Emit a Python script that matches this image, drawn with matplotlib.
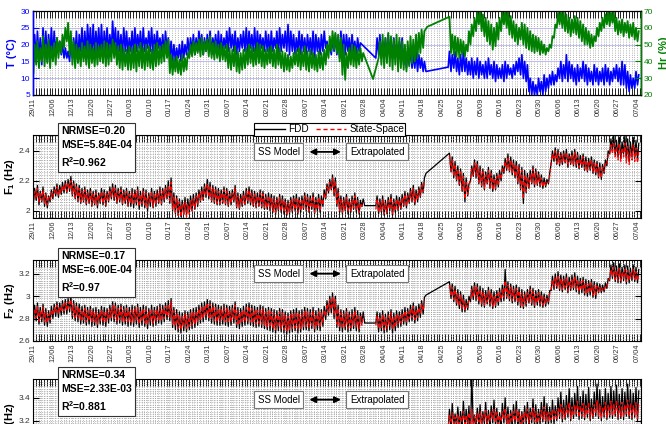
import numpy as np
import matplotlib
matplotlib.use('Agg')
import matplotlib.pyplot as plt
from matplotlib.ticker import MultipleLocator, FixedLocator
from matplotlib.lines import Line2D

plt.rcParams['font.family'] = ['Liberation Sans', 'DejaVu Sans']
plt.rcParams['mathtext.fontset'] = 'custom'
plt.rcParams['mathtext.rm'] = 'Liberation Sans'
plt.rcParams['mathtext.bf'] = 'Liberation Sans:bold'

N = None

# weekly tick labels (day 0 = 29/11)
xtick_labels = ['29/11', '12/06', '12/13', '12/20', '12/27', '01/03', '01/10', '01/17',
                '01/24', '01/31', '02/07', '02/14', '02/21', '02/28', '03/07', '03/14',
                '03/21', '03/28', '04/04', '04/11', '04/18', '04/25', '05/02', '05/09',
                '05/16', '05/23', '05/30', '06/06', '06/13', '06/20', '06/27', '07/04']
tick_days = [7 * i for i in range(len(xtick_labels))]

# daily max / min, one row per week
t_hi = [23, 24, 22, 25, 24, 23, 25,  24, 22, 21, 20, 19, 18, 21,  22, 24, 23, 25, 24, 26, 25,
        26, 24, 25, 26, 24, 25, 23,  27, 25, 24, 23, 25, 24, 22,  24, 25, 23, 24, 25, 22, 24,
        25, 23, 24, 22, 23, 24, 22,  21, 20, 19, 20, 21, 20, 22,  22, 23, 22, 24, 23, 22, 23,
        24, 22, 23, 24, 23, 22, 24,  25, 23, 24, 22, 23, 24, 25,  24, 23, 25, 24, 23, 22, 24,
        23, 24, 22, 24, 25, 23, 24,  26, 24, 23, 22, 24, 23, 22,  23, 22, 24, 23, 22, 23, 24,
        21, 20, 22, 23, 22, 24, 23,  23, 22, 23, 21, 22, 20.5, N,  N, N, N, N, 22, 23, 21,
        22, 23, 21, 22, 20, 21, 22,  19, 18, 19, 17, 18, 17, 16,  15, N, N, N, N, N, N,
        N, N, 18, 17, 18, 16, 17,  18, 16, 15, 16, 15, 16, 15,  14, 15, 16, 14, 15, 14, 13,
        14, 15, 14, 13, 14, 15, 16,  17, 15, 14, 10, 9, 8, 10,  9, 11, 10, 11, 12, 11, 13,
        15, 14, 17, 15, 14, 13, 14,  13, 15, 14, 13, 12, 14, 13,  12, 13, 14, 13, 12, 13, 14,
        13, 15, 14, 12, 11, 10, 12,  11]
t_lo = [17, 15, 16, 14, 16, 15, 17,  16, 17, 18, 17, 16, 16, 15,  16, 17, 15, 18, 16, 17, 18,
        16, 17, 18, 17, 16, 18, 17,  18, 19, 17, 18, 17, 18, 17,  18, 17, 18, 19, 17, 18, 19,
        18, 17, 18, 19, 18, 17, 18,  16, 15, 15, 16, 15, 16, 17,  17, 18, 17, 18, 19, 17, 18,
        18, 17, 19, 18, 17, 18, 19,  18, 19, 18, 17, 18, 19, 18,  17, 19, 18, 17, 18, 19, 18,
        18, 17, 18, 19, 17, 18, 19,  18, 17, 18, 17, 18, 17, 18,  17, 18, 17, 16, 18, 17, 18,
        19, 18, 17, 18, 17, 16, 17,  17, 18, 17, 18, 17, 18, N,  N, N, N, N, 16, 17, 16,
        17, 16, 17, 16, 17, 16, 17,  14, 13, 14, 13, 13, 12, 13,  12, 12, N, N, N, N, N,
        N, N, 13.3, 12, 13, 12, 11,  12, 12, 11, 11, 10, 11, 10,  11, 10, 10, 11, 10, 9, 10,
        10, 9, 10, 11, 10, 11, 12,  11, 10, 9, 6, 5, 5, 5,  6, 5, 6, 7, 8, 8, 9,
        10, 9, 10, 9, 10, 9, 8,  9, 10, 9, 8, 9, 8, 9,  8, 9, 8, 9, 8, 9, 10,
        9, 8, 8, 7, 6, 7, 7,  8]

hr_hi = [50, 52, 48, 55, 50, 53, 49,  51, 54, 52, 56, 60, 63, 58,  52, 50, 48, 51, 49, 52, 50,
         48, 51, 49, 50, 52, 51, 50,  53, 51, 49, 50, 48, 47, 49,  48, 50, 49, 51, 48, 50, 49,
         47, 50, 51, 49, 50, 52, 53,  44, 42, 43, 41, 44, 42, 45,  50, 52, 51, 53, 54, 52, 53,
         55, 51, 52, 50, 51, 49, 50,  48, 47, 49, 46, 45, 47, 48,  50, 49, 48, 51, 50, 49, 47,
         48, 49, 47, 50, 48, 46, 45,  44, 43, 45, 47, 48, 46, 49,  46, 47, 45, 44, 46, 45, 47,
         50, 55, 58, 57, 56, 54, 50,  45, 48, 50, 49, 47, 48, 45,  N, N, N, N, N, 52, 56,
         54, 57, 55, 53, 56, 54, 52,  50, 52, 55, 53, 56, 57, 59,  58, 60.6, N, N, N, N, N,
         N, N, 66.6, 56, 55, 54, 53,  52, 50, 58, 62, 66, 69, 70,  68, 66, 64, 62, 60, 63, 66,
         69, 70, 70, 67, 64, 62, 60,  63, 62, 60, 58, 56, 55, 54,  52, 50, 48, 50, 55, 62, 69,
         70, 70, 68, 66, 65, 67, 66,  64, 62, 60, 58, 56, 55, 60,  63, 66, 68, 70, 69, 70, 66,
         64, 65, 63, 64, 62, 63, 60,  58]
hr_lo = [33, 38, 36, 40, 37, 39, 36,  40, 38, 42, 45, 48, 52, 44,  38, 36, 39, 37, 40, 38, 36,
         39, 37, 38, 40, 39, 37, 38,  40, 42, 38, 36, 35, 37, 35,  35, 36, 34, 37, 36, 35, 37,
         36, 35, 37, 38, 39, 40, 42,  33, 32, 34, 33, 32, 34, 35,  42, 43, 44, 45, 43, 44, 46,
         43, 42, 41, 42, 40, 41, 40,  36, 35, 37, 34, 33, 35, 36,  38, 39, 37, 38, 39, 37, 36,
         38, 39, 37, 36, 38, 36, 34,  35, 34, 36, 38, 37, 35, 37,  35, 34, 36, 35, 34, 36, 35,
         38, 42, 46, 47, 45, 40, 32,  29, 36, 38, 37, 36, 38, 40,  N, N, N, 29.5, N, 42, 38,
         36, 39, 37, 35, 38, 34, 36,  35, 34, 37, 39, 40, 42, 45,  48, N, N, N, N, N, N,
         N, N, N, 45, 44, 43, 42,  44, 43, 46, 50, 55, 58, 62,  58, 55, 52, 50, 47, 49, 53,
         58, 62, 60, 56, 54, 52, 50,  53, 50, 48, 47, 46, 45, 46,  44, 45, 44, 46, 48, 54, 60,
         62, 60, 58, 57, 55, 57, 56,  54, 52, 50, 50, 48, 49, 52,  55, 58, 60, 62, 61, 63, 58,
         56, 57, 55, 57, 54, 55, 53,  52]

# frequencies in 0.01 Hz
f1_fdd_hi = [215, 217, 213, 216, 212, 210, 214,  216, 218, 217, 219, 220, 221, 223,
             220, 218, 217, 215, 216, 214, 215,  213, 214, 212, 215, 214, 213, 216,
             218, 217, 215, 216, 214, 215, 213,  215, 214, 216, 213, 215, 214, 212,
             215, 213, 214, 216, 215, 217, 220,  222, 212, 210, 208, 207, 209, 208,
             210, 211, 212, 214, 216, 218, 221,  219, 217, 216, 215, 214, 216, 215,
             213, 214, 217, 212, 211, 213, 215,  216, 214, 213, 212, 214, 213, 211,
             212, 211, 210, 209, 211, 210, 208,  207, 209, 210, 211, 209, 210, 212,
             211, 210, 212, 209, 211, 210, 214,  218, 221, 224, 222, 215, 210, 209,
             211, 208, 210, 212, 209, 207, 208,  N, N, N, N, 210, 208, 210,
             207, 209, 211, 208, 210, 209, 211,  213, 212, 215, 217, 214, 216, 219,
             222, N, N, N, N, N, N,  N, N, 238.5, 236, 233, 230, 228,
             225, 222, 218, 230, 234, 233, 230,  228, 226, 229, 227, 224, 225, 227,
             230, 235, 238, 236, 234, 233, 231,  229, 227, 225, 227, 230, 228, 226,
             224, 222, 221, 225, 240, 242, 241,  239, 240, 241, 238, 240, 241, 239,
             237, 238, 236, 235, 236, 234, 233,  232, 231, 234, 240, 248, 250, 247,
             249, 246, 250, 248, 246, 249, 247,  245]
f1_fdd_lo = [205, 207, 204, 206, 203, 202, 206,  208, 210, 209, 211, 212, 212, 213,
             210, 208, 206, 205, 206, 204, 205,  203, 204, 202, 205, 204, 203, 206,
             208, 207, 205, 206, 204, 205, 203,  203, 202, 204, 201, 203, 202, 200,
             203, 202, 203, 205, 204, 206, 208,  205, 200, 198, 197, 196, 198, 197,
             199, 200, 201, 203, 206, 207, 209,  208, 206, 205, 204, 204, 205, 204,
             203, 204, 206, 202, 201, 203, 204,  205, 204, 203, 202, 203, 202, 201,
             201, 200, 199, 198, 200, 199, 198,  197, 198, 199, 200, 198, 199, 201,
             200, 199, 201, 198, 200, 199, 203,  208, 212, 214, 210, 203, 199, 198,
             200, 198, 199, 201, 199, 198, 203,  203.5, N, N, N, 203.5, 198, 199,
             197, 198, 200, 197, 199, 200, 201,  203, 202, 205, 206, 204, 206, 209,
             212, 225, N, N, N, N, N,  N, N, N, 226, 222, 220, 217,
             213, 206, 210, 220, 223, 222, 218,  216, 214, 218, 215, 213, 214, 216,
             220, 225, 227, 226, 224, 222, 218,  214, 205, 212, 215, 218, 216, 217,
             216, 215, 216, 218, 232, 233, 231,  230, 231, 232, 229, 231, 230, 229,
             228, 229, 227, 226, 227, 225, 224,  222, 221, 225, 230, 238, 240, 237,
             236, 235, 238, 234, 233, 236, 235,  234]
f1_ss_hi = [213, 215, 212, 214, 211, 209, 212,  214, 216, 215, 217, 218, 219, 220,
            218, 216, 215, 213, 214, 212, 213,  211, 212, 211, 213, 212, 211, 214,
            216, 215, 213, 214, 212, 213, 211,  213, 212, 214, 211, 213, 212, 210,
            213, 211, 212, 214, 213, 215, 217,  219, 210, 208, 206, 205, 206, 205,
            207, 208, 210, 212, 214, 216, 218,  217, 215, 214, 213, 212, 214, 213,
            211, 212, 215, 210, 209, 211, 213,  214, 212, 211, 210, 212, 211, 209,
            210, 209, 208, 207, 209, 208, 206,  205, 207, 208, 209, 207, 208, 210,
            209, 208, 210, 207, 209, 208, 212,  216, 219, 222, 220, 213, 208, 207,
            209, 206, 208, 210, 207, 205, 206,  N, N, N, N, 208, 206, 208,
            205, 207, 209, 206, 208, 207, 209,  211, 210, 213, 215, 212, 214, 217,
            220, N, N, N, N, N, N,  N, N, 237, 234, 231, 228, 226,
            223, 219, 216, 228, 232, 231, 228,  226, 224, 227, 225, 222, 223, 225,
            228, 233, 236, 234, 232, 231, 229,  227, 224, 223, 225, 228, 226, 224,
            222, 220, 219, 223, 238, 240, 239,  237, 238, 239, 236, 238, 239, 237,
            235, 236, 234, 233, 234, 232, 231,  230, 229, 232, 237, 244, 246, 243,
            245, 242, 245, 243, 241, 244, 242,  240]
f1_ss_lo = [207, 208, 206, 207, 205, 204, 207,  209, 211, 210, 212, 213, 213, 214,
            211, 209, 207, 206, 207, 205, 206,  204, 205, 204, 206, 205, 204, 207,
            209, 208, 206, 207, 205, 206, 204,  205, 204, 206, 203, 205, 204, 202,
            205, 203, 204, 206, 205, 207, 209,  207, 201, 199, 197, 196, 197, 196,
            198, 200, 202, 204, 207, 208, 210,  209, 207, 206, 205, 205, 206, 205,
            204, 205, 207, 203, 202, 204, 205,  206, 205, 204, 203, 204, 203, 202,
            202, 201, 200, 199, 201, 200, 199,  198, 199, 200, 201, 199, 200, 202,
            201, 200, 202, 199, 201, 200, 204,  209, 213, 215, 211, 204, 200, 199,
            201, 199, 200, 202, 200, 199, 203,  N, N, N, N, 201, 199, 200,
            198, 199, 201, 198, 200, 201, 202,  204, 203, 206, 207, 205, 207, 210,
            213, N, N, N, N, N, N,  N, N, N, 227, 223, 221, 218,
            214, 208, 211, 221, 224, 223, 219,  217, 215, 219, 216, 214, 215, 217,
            221, 226, 228, 227, 225, 223, 219,  215, 208, 213, 216, 219, 217, 218,
            217, 216, 217, 219, 233, 234, 232,  231, 232, 233, 230, 232, 231, 230,
            229, 230, 228, 227, 228, 226, 225,  223, 222, 226, 231, 237, 238, 236,
            234, 233, 236, 232, 231, 234, 233,  232]

f2_fdd_hi = [292, 294, 290, 293, 289, 287, 291,  293, 295, 294, 296, 297, 298, 300,
             296, 294, 293, 291, 292, 290, 291,  289, 290, 288, 291, 290, 289, 292,
             295, 294, 292, 293, 291, 292, 290,  292, 291, 293, 290, 292, 291, 289,
             292, 290, 291, 293, 292, 294, 296,  298, 290, 288, 286, 285, 287, 286,
             288, 289, 290, 292, 294, 295, 297,  296, 294, 293, 292, 291, 293, 292,
             291, 292, 295, 290, 289, 291, 293,  294, 292, 291, 290, 292, 291, 289,
             290, 289, 288, 287, 289, 288, 286,  285, 287, 288, 289, 287, 288, 290,
             289, 288, 290, 287, 289, 288, 291,  296, 300, 303, 300, 292, 288, 287,
             289, 286, 288, 290, 287, 285, 286,  N, N, N, N, 286, 285, 287,
             284, 286, 288, 285, 287, 286, 288,  290, 289, 292, 294, 291, 293, 296,
             299, N, N, N, N, N, N,  N, N, 313, 311, 309, 306, 304,
             301, 297, 300, 309, 312, 311, 309,  307, 305, 308, 306, 304, 305, 307,
             310, 324, 313, 311, 309, 310, 308,  306, 304, 306, 309, 307, 305, 306,
             304, 302, 301, 305, 318, 320, 322,  319, 318, 320, 317, 319, 321, 318,
             316, 317, 315, 314, 315, 313, 312,  311, 310, 312, 316, 328, 330, 327,
             329, 326, 328, 327, 325, 328, 326,  324]
f2_fdd_lo = [276, 278, 275, 277, 274, 273, 276,  280, 282, 281, 283, 284, 284, 286,
             280, 278, 277, 275, 276, 274, 275,  273, 274, 272, 275, 274, 273, 276,
             278, 277, 275, 276, 274, 275, 273,  274, 273, 275, 272, 274, 273, 271,
             274, 273, 274, 276, 275, 277, 279,  278, 272, 270, 268, 267, 269, 268,
             270, 271, 272, 274, 276, 277, 279,  278, 276, 275, 274, 274, 275, 274,
             273, 274, 276, 272, 271, 273, 274,  275, 274, 273, 272, 273, 272, 271,
             270, 269, 268, 267, 269, 268, 267,  266, 267, 268, 269, 267, 268, 270,
             270, 269, 271, 268, 270, 269, 273,  279, 283, 285, 280, 272, 269, 268,
             270, 268, 269, 271, 269, 268, 276,  276, N, N, N, 276, 268, 269,
             267, 268, 270, 267, 269, 272, 273,  275, 274, 277, 278, 276, 278, 281,
             284, 301, N, N, N, N, N,  N, N, N, 298, 295, 292, 289,
             286, 286, 288, 295, 297, 296, 293,  291, 290, 293, 291, 289, 290, 292,
             295, 296, 298, 296, 294, 295, 292,  290, 289, 291, 294, 292, 290, 292,
             291, 290, 291, 293, 305, 306, 307,  305, 304, 306, 303, 305, 306, 304,
             302, 303, 301, 300, 301, 299, 298,  303, 303, 304, 307, 314, 316, 313,
             312, 312, 314, 311, 312, 314, 313,  312]
f2_ss_hi = [289, 291, 287, 290, 286, 284, 288,  290, 292, 291, 293, 294, 295, 297,
            293, 291, 290, 288, 289, 287, 288,  286, 287, 285, 288, 287, 286, 289,
            292, 291, 289, 290, 288, 289, 287,  289, 288, 290, 287, 289, 288, 286,
            289, 287, 288, 290, 289, 291, 293,  295, 287, 285, 283, 282, 284, 283,
            285, 286, 287, 289, 291, 292, 294,  293, 291, 290, 289, 288, 290, 289,
            288, 289, 292, 287, 286, 288, 290,  291, 289, 288, 287, 289, 288, 286,
            287, 286, 285, 284, 286, 285, 283,  282, 284, 285, 286, 284, 285, 287,
            286, 285, 287, 284, 286, 285, 288,  293, 297, 300, 297, 289, 285, 284,
            286, 283, 285, 287, 284, 282, 283,  N, N, N, N, 283, 282, 284,
            281, 283, 285, 282, 284, 283, 285,  287, 286, 289, 291, 288, 290, 293,
            296, N, N, N, N, N, N,  N, N, 310, 308, 306, 303, 301,
            298, 294, 297, 306, 309, 308, 306,  304, 302, 305, 303, 301, 302, 304,
            307, 314, 310, 308, 306, 307, 305,  303, 301, 303, 306, 304, 302, 303,
            301, 299, 298, 302, 315, 317, 319,  316, 315, 317, 314, 316, 318, 315,
            313, 314, 312, 311, 312, 310, 309,  308, 307, 309, 313, 324, 326, 323,
            325, 322, 324, 323, 321, 324, 322,  320]
f2_ss_lo = [279, 281, 278, 280, 277, 276, 279,  283, 285, 284, 286, 287, 287, 289,
            283, 281, 280, 278, 279, 277, 278,  276, 277, 275, 278, 277, 276, 279,
            281, 280, 278, 279, 277, 278, 276,  277, 276, 278, 275, 277, 276, 274,
            277, 276, 277, 279, 278, 280, 282,  281, 275, 273, 271, 270, 272, 271,
            273, 274, 275, 277, 279, 280, 282,  281, 279, 278, 277, 277, 278, 277,
            276, 277, 279, 275, 274, 276, 277,  278, 277, 276, 275, 276, 275, 274,
            273, 272, 271, 270, 272, 271, 270,  269, 270, 271, 272, 270, 271, 273,
            273, 272, 274, 271, 273, 272, 276,  282, 286, 288, 283, 275, 272, 271,
            273, 271, 272, 274, 272, 271, 274,  N, N, N, N, 274, 271, 272,
            270, 271, 273, 270, 272, 275, 276,  278, 277, 280, 281, 279, 281, 284,
            287, N, N, N, N, N, N,  N, N, N, 300, 297, 294, 291,
            288, 288, 290, 297, 299, 298, 295,  293, 292, 295, 293, 291, 292, 294,
            297, 299, 300, 298, 296, 297, 294,  292, 291, 293, 296, 294, 292, 294,
            293, 292, 293, 295, 307, 308, 309,  307, 306, 308, 305, 307, 308, 306,
            304, 305, 303, 302, 303, 301, 300,  304, 304, 305, 308, 316, 318, 315,
            314, 314, 316, 313, 314, 316, 315,  314]

# F3 only readable from 27/04 on (rest of the panel is cut off)
f3_fdd_hi = [N] * 149 + [330, 335, 326, 332, 328,
             337, 330, 333, 362, 325, 331, 334,  328, 336, 329, 333, 338, 331, 327,
             335, 340, 332, 329, 334, 337, 330,  328, 333, 336, 331, 339, 334, 330,
             336, 341, 335, 332, 338, 333, 340,  345, 338, 342, 348, 340, 344, 350,
             341, 346, 343, 349, 339, 345, 352,  347, 341, 348, 344, 350, 346, 351,
             343, 348, 345, 352, 347, 344, 349,  346]
f3_fdd_lo = [N] * 149 + [312, 314, 313, 315, 313,
             316, 314, 315, 300, 312, 315, 316,  313, 317, 314, 316, 318, 315, 313,
             316, 318, 315, 313, 316, 317, 314,  313, 316, 317, 315, 318, 316, 314,
             317, 319, 317, 316, 318, 317, 320,  322, 319, 321, 323, 320, 322, 324,
             321, 322, 321, 323, 320, 322, 324,  322, 320, 323, 321, 323, 322, 324,
             321, 322, 321, 324, 322, 321, 323,  320]
f3_ss_hi = [N] * 149 + [325, 327, 323, 326, 324,
            328, 325, 327, 330, 324, 326, 328,  325, 329, 326, 328, 330, 327, 325,
            328, 331, 327, 326, 328, 330, 327,  326, 328, 330, 327, 331, 328, 326,
            329, 332, 328, 327, 330, 328, 331,  334, 331, 333, 336, 332, 334, 337,
            333, 335, 333, 336, 331, 334, 338,  335, 332, 336, 334, 337, 335, 338,
            333, 336, 334, 338, 335, 333, 336,  334]
f3_ss_lo = [N] * 149 + [316, 318, 316, 318, 317,
            319, 317, 318, 316, 316, 318, 319,  317, 320, 318, 319, 321, 318, 317,
            319, 321, 318, 317, 319, 320, 318,  317, 319, 320, 318, 321, 319, 318,
            320, 322, 320, 319, 321, 320, 322,  324, 322, 323, 325, 322, 324, 326,
            323, 324, 323, 325, 322, 324, 326,  324, 322, 325, 323, 325, 324, 326,
            323, 324, 323, 326, 324, 323, 325,  322]

metrics = [('0.20', '5.84E-04', '0.962'),
           ('0.17', '6.00E-04', '0.97'),
           ('0.34', '2.33E-03', '0.881')]


def zigzag(lo, hi, scale=1.0, keep_gaps=False):
    t, v = [], []
    for d, (a, b) in enumerate(zip(lo, hi)):
        t += [d + 0.15, d + 0.6]
        v += [a, b]
    t = np.array(t)
    v = np.array([np.nan if x is None else x for x in v], float) * scale
    if not keep_gaps:
        m = ~np.isnan(v)
        t, v = t[m], v[m]
    return t, v


def style_x(ax):
    ax.set_xlim(0, 218.4)
    ax.xaxis.set_major_locator(FixedLocator(tick_days))
    ax.xaxis.set_minor_locator(MultipleLocator(1))
    ax.set_xticklabels(xtick_labels, rotation=90, fontsize=5.3, color='#333333')
    ax.tick_params(axis='x', which='both', direction='in', top=True, bottom=True,
                   length=5, width=0.6, color='k', pad=2)
    ax.grid(True, which='both', axis='x', color='#9a9a9a', ls=':', lw=0.6)
    ax.set_axisbelow(True)


fig = plt.figure(figsize=(6.66, 4.24), dpi=100)
L, W = 33 / 666, 608 / 666
ax1 = fig.add_axes([L, 0.776, W, 0.198])
ax2 = fig.add_axes([L, 0.486, W, 0.196])
ax3 = fig.add_axes([L, 0.196, W, 0.191])
ax4 = fig.add_axes([L, -0.0896, W, 0.196])

# temperature / humidity
blue, green = '#0000ff', '#008000'
ax1r = ax1.twinx()
tt, tv = zigzag(t_lo, t_hi)
ax1.plot(tt, tv, color=blue, lw=1.2)
ht, hv = zigzag(hr_lo, hr_hi)
ax1r.plot(ht, hv, color=green, lw=1.3)
ax1.set_ylim(5, 30)
ax1r.set_ylim(20, 70)
ax1.yaxis.set_major_locator(MultipleLocator(5))
ax1r.yaxis.set_major_locator(MultipleLocator(10))
style_x(ax1)
ax1.yaxis.grid(True, color='#b4b4f0', lw=0.6)
ax1.tick_params(axis='y', direction='in', length=4, color=blue, labelcolor=blue, labelsize=6, pad=2)
ax1r.tick_params(axis='y', direction='in', length=4, color=green, labelcolor=green, labelsize=6, pad=2)
ax1.spines['left'].set_color(blue)
ax1r.spines['left'].set_color(blue)
ax1r.spines['right'].set_color(green)
for s in ('left', 'right'):
    ax1.spines[s].set_linewidth(1.0)
    ax1r.spines[s].set_linewidth(1.0)
ax1.set_ylabel('T (°C)', color=blue, fontsize=8, fontweight='bold')
ax1.yaxis.set_label_coords(-0.026, 0.5)
ax1r.set_ylabel('Hr (%)', color=green, fontsize=8, fontweight='bold')
ax1r.yaxis.set_label_coords(1.029, 0.5)

# frequency panels
panels = [
    (ax2, f1_fdd_lo, f1_fdd_hi, f1_ss_lo, f1_ss_hi, (1.953, 2.507), 0.2, 0.02, '1', 0.795),
    (ax3, f2_fdd_lo, f2_fdd_hi, f2_ss_lo, f2_ss_hi, (2.6, 3.325), 0.2, 0.02, '2', 0.83),
    (ax4, f3_fdd_lo, f3_fdd_hi, f3_ss_lo, f3_ss_hi, (2.84, 3.565), 0.2, 0.02, '3', 0.75),
]
for i, (ax, flo, fhi, slo, shi, ylim, major, minor, idx, ybox) in enumerate(panels):
    ft, fv = zigzag(flo, fhi, 0.01)
    st, sv = zigzag(slo, shi, 0.01, keep_gaps=True)
    ax.plot(ft, fv, color='k', lw=0.9)
    ax.plot(st, sv, color='#ff0000', lw=0.9, ls=(0, (3, 2)))
    ax.set_ylim(*ylim)
    ax.yaxis.set_major_locator(MultipleLocator(major))
    ax.yaxis.set_minor_locator(MultipleLocator(minor))
    ax.yaxis.set_major_formatter(plt.FuncFormatter(lambda v, p: ('%.1f' % v).rstrip('0').rstrip('.')))
    style_x(ax)
    ax.grid(True, which='both', axis='y', color='#9a9a9a', ls=':', lw=0.6)
    ax.tick_params(axis='y', which='major', direction='in', left=True, right=True,
                   length=4, labelsize=6, labelcolor='#333333', pad=2)
    ax.tick_params(axis='y', which='minor', length=0)
    ax.set_ylabel(r'$\mathbf{F_%s}$ (Hz)' % idx, fontsize=8, fontweight='bold')
    ax.yaxis.set_label_coords(-0.026, 0.5)
    nr, mse, r2 = metrics[i]
    ax.text(0.046, 1.105, 'NRMSE=%s\nMSE=%s\nR$^{\\mathbf{2}}$=%s' % (nr, mse, r2),
            transform=ax.transAxes, ha='left', va='top', fontsize=7.5, fontweight='bold',
            linespacing=1.45,
            bbox=dict(boxstyle='square,pad=0.3', fc='white', ec='#333333', lw=0.8), zorder=10)
    box = dict(boxstyle='square,pad=0.35', fc='white', ec='#777777', lw=0.8)
    ax.text(0.404, ybox, 'SS Model', transform=ax.transAxes, ha='center', va='center',
            fontsize=7, bbox=box, zorder=10)
    ax.text(0.566, ybox, 'Extrapolated', transform=ax.transAxes, ha='center', va='center',
            fontsize=7, bbox=box, zorder=10)
    ax.annotate('', xy=(0.511, ybox), xytext=(0.450, ybox), xycoords='axes fraction',
                arrowprops=dict(arrowstyle='<|-|>', color='k', lw=1.3, mutation_scale=9),
                zorder=10)

handles = [Line2D([], [], color='k', lw=1.0),
           Line2D([], [], color='#ff0000', lw=1.0, ls=(0, (3, 2)))]
leg = ax2.legend(handles, ['FDD', 'State-Space'], loc='center', bbox_to_anchor=(0.488, 1.07),
                 ncol=2, fontsize=7.2, handlelength=3.0, columnspacing=0.7, borderpad=0.15,
                 handletextpad=0.3, fancybox=False, edgecolor='k', framealpha=1)
leg.get_frame().set_linewidth(0.8)
leg.set_zorder(20)

fig.savefig('out.png', dpi=100)
